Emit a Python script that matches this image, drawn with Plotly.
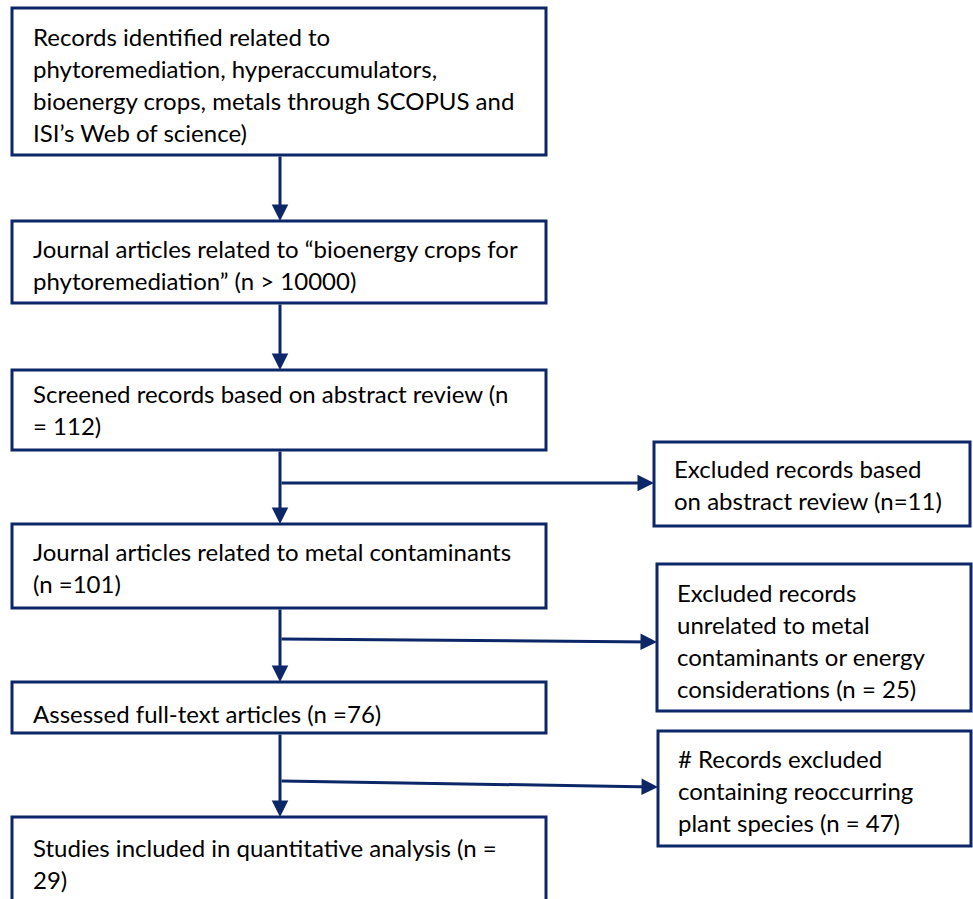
import plotly.graph_objects as go

# Texts of the flow boxes (one entry per line)
main_texts = [
    ["Records identified related to", "phytoremediation, hyperaccumulators,",
     "bioenergy crops, metals through SCOPUS and", "ISI\u2019s Web of science)"],
    ["Journal articles related to \u201cbioenergy crops for", "phytoremediation\u201d (n > 10000)"],
    ["Screened records based on abstract review (n", "= 112)"],
    ["Journal articles related to metal contaminants", "(n =101)"],
    ["Assessed full-text articles (n =76)"],
    ["Studies included in quantitative analysis (n =", "29)"],
]
side_texts = [
    ["Excluded records based", "on abstract review (n=11)"],
    ["Excluded records", "unrelated to metal", "contaminants or energy", "considerations (n = 25)"],
    ["# Records excluded", "containing reoccurring", "plant species (n = 47)"],
]

# Layout (page-pixel data coordinates)
main_boxes = [(12, 546, 8, 155), (12, 546, 221, 303), (12, 546, 370, 450),
              (12, 546, 524, 608), (12, 546, 682, 733), (12, 546, 817, 910)]
main_first_line = [36, 248, 393, 551, 713, 847]
side_boxes = [(654, 970, 442, 526), (657, 971, 564, 711), (658, 971, 731, 846)]
side_first_line = [468, 592, 758]
branch_y = [(483, 483), (639, 642), (781, 787)]
line_step = 32
spine_x = 280
navy = "#0c2768"
font_fam = "Lato"
font_size = 24

fig = go.Figure()
shapes = []
ann = []

for (x0, x1, y0, y1) in main_boxes + side_boxes:
    shapes.append(dict(type="rect", x0=x0, x1=x1, y0=y0, y1=y1, xref="x", yref="y",
                       line=dict(color=navy, width=3), fillcolor="white"))

for box, first, lines in zip(main_boxes, main_first_line, main_texts):
    for i, t in enumerate(lines):
        ann.append(dict(x=box[0] + 19, y=first + i * line_step, text=t, showarrow=False,
                        xanchor="left", yanchor="middle", xref="x", yref="y",
                        font=dict(family=font_fam, size=font_size, color="black")))

for box, first, lines in zip(side_boxes, side_first_line, side_texts):
    for i, t in enumerate(lines):
        ann.append(dict(x=box[0] + 18, y=first + i * line_step, text=t, showarrow=False,
                        xanchor="left", yanchor="middle", xref="x", yref="y",
                        font=dict(family=font_fam, size=font_size, color="black")))

# vertical arrows between main boxes
for a, b in zip(main_boxes[:-1], main_boxes[1:]):
    ann.append(dict(x=spine_x, y=b[2], ax=spine_x, ay=a[3], xref="x", yref="y",
                    axref="x", ayref="y", showarrow=True, arrowhead=2, arrowsize=1.1,
                    arrowwidth=3, arrowcolor=navy, text=""))

# branch arrows to side boxes
for (ya, yb), box in zip(branch_y, side_boxes):
    ann.append(dict(x=box[0], y=yb, ax=spine_x, ay=ya, xref="x", yref="y",
                    axref="x", ayref="y", showarrow=True, arrowhead=2, arrowsize=1.1,
                    arrowwidth=3, arrowcolor=navy, text=""))

fig.update_layout(
    width=973, height=899, margin=dict(l=0, r=0, t=0, b=0),
    paper_bgcolor="white", plot_bgcolor="white",
    xaxis=dict(range=[0, 973], visible=False, fixedrange=True),
    yaxis=dict(range=[899, 0], visible=False, fixedrange=True),
    shapes=shapes, annotations=ann, showlegend=False, hovermode=False,
)
fig.write_html("out.html", config={"displayModeBar": False},
               post_script="document.body.style.margin='0';document.body.style.overflow='hidden';")
